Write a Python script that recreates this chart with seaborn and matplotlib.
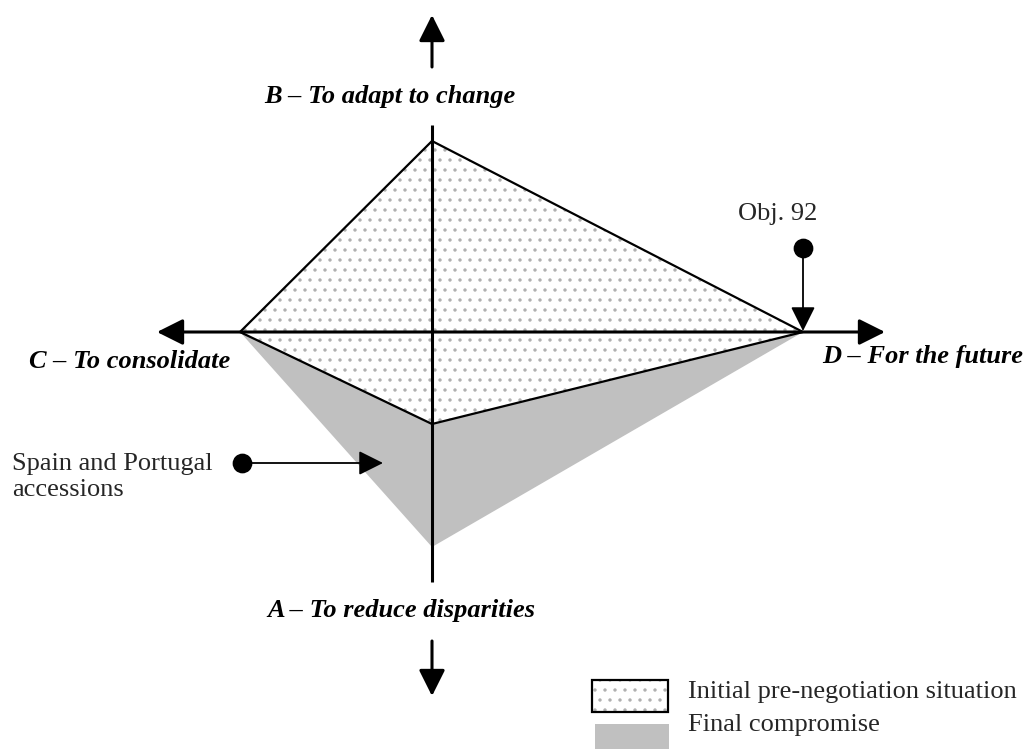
import matplotlib
matplotlib.use("Agg")
import matplotlib.pyplot as plt
from matplotlib.patches import Polygon, Rectangle
import seaborn as sns
import pandas as pd

# ---- data -------------------------------------------------------------
axis_labels = ["A – To reduce disparities", "B – To adapt to change",
               "C – To consolidate", "D – For the future"]
axis_dirs = [(0, -1), (0, 1), (-1, 0), (1, 0)]          # A down, B up, C left, D right
initial_reach = [92, 191, 192, 371]                      # pre-negotiation situation
final_reach = [215, 0, 192, 371]                         # final compromise
legend_labels = ["Initial pre-negotiation situation", "Final compromise"]
note_obj = "Obj. 92"
note_spain = "Spain and Portugal\naccessions"

# ---- style ------------------------------------------------------------
DPI = 120                 # hatch spacing scales with dpi
S = 100 / DPI             # keep sizes as if drawn at 100 dpi
sns.set_theme(style="white")
plt.rcParams["font.family"] = ["Liberation Serif", "DejaVu Serif"]
plt.rcParams["hatch.linewidth"] = 1.0 * S
FS = 19 * S
GRAY = "#c0c0c0"
DOT = "#b0b0b0"

W, H = 1026, 749
OX, OY = 432, 332          # pixel position of the centre


def P(px, py):
    """pixel position -> data coords (origin at centre, y up)"""
    return px - OX, OY - py


def polygon_pts(reach):
    # order around: C(left), B(up), D(right), A(down)
    order = [2, 1, 3, 0]
    return [(axis_dirs[i][0] * reach[i], axis_dirs[i][1] * reach[i]) for i in order]


fig = plt.figure(figsize=(W / DPI, H / DPI), dpi=DPI)
ax = fig.add_axes([0, 0, 1, 1])
ax.set_xlim(-OX, W - OX)
ax.set_ylim(OY - H, OY)
ax.axis("off")

# final compromise (gray)
fin = polygon_pts(final_reach)
ax.add_patch(Polygon(fin, closed=True, facecolor=GRAY, edgecolor="none", zorder=1))

# initial situation (dotted)
ini = polygon_pts(initial_reach)
ax.add_patch(Polygon(ini, closed=True, facecolor="white", edgecolor=DOT,
                     hatch="..", linewidth=0, zorder=2))
df = pd.DataFrame({"x": [p[0] for p in ini + ini[:1]],
                   "y": [p[1] for p in ini + ini[:1]]})
sns.lineplot(data=df, x="x", y="y", sort=False, estimator=None, color="black",
             linewidth=1.6 * S, ax=ax, zorder=3)
ax.set_xlabel("")
ax.set_ylabel("")

# ---- axes with arrows -------------------------------------------------
axis_arrow = dict(arrowstyle="<|-|>,head_length=0.4,head_width=0.2",
                  mutation_scale=40 * S, lw=2.2 * S, color="black",
                  shrinkA=0, shrinkB=0)
ax.annotate("", xy=P(157, OY), xytext=P(885, OY), arrowprops=axis_arrow, zorder=5)
one_arrow = dict(axis_arrow, arrowstyle="-|>,head_length=0.4,head_width=0.2")
ax.annotate("", xy=P(OX, 15), xytext=P(OX, 67), arrowprops=one_arrow, zorder=5)
ax.annotate("", xy=P(OX, 696), xytext=P(OX, 641), arrowprops=one_arrow, zorder=5)
ax.plot(*zip(P(OX, 125), P(OX, 582)), color="black", lw=2.2 * S, zorder=5,
        solid_capstyle="butt")

# ---- axis labels ------------------------------------------------------
lab_kw = dict(fontsize=FS, fontweight="bold", fontstyle="italic", color="black",
              va="center")
ax.text(*P(515, 96), axis_labels[1], ha="right", **lab_kw)
ax.text(*P(535, 610), axis_labels[0], ha="right", **lab_kw)
ax.text(*P(29, 362), axis_labels[2], ha="left", **lab_kw)
ax.text(*P(822, 356), axis_labels[3], ha="left", **lab_kw)

# ---- annotations ------------------------------------------------------
note_arrow = dict(arrowstyle="-|>,head_length=0.5,head_width=0.25",
                  mutation_scale=30 * S, lw=1.3 * S, color="black",
                  shrinkA=0, shrinkB=0)
ax.annotate("", xy=P(803, 331), xytext=P(803, 248), arrowprops=note_arrow, zorder=6)
ax.plot(*P(803, 248), marker="o", markersize=13 * S, color="black", zorder=7)
ax.text(*P(778, 214), note_obj, fontsize=FS, ha="center", va="center")

ax.annotate("", xy=P(383, 463), xytext=P(242, 463), arrowprops=note_arrow, zorder=6)
ax.plot(*P(242, 463), marker="o", markersize=13 * S, color="black", zorder=7)
ax.text(*P(12, 477), note_spain, fontsize=FS, ha="left", va="center",
        linespacing=1.2)

# ---- legend -----------------------------------------------------------
x0, y0 = P(592, 712)
ax.add_patch(Rectangle((x0, y0), 76, 32, facecolor="white", edgecolor=DOT,
                       hatch="..", linewidth=0, zorder=2))
ax.add_patch(Rectangle((x0, y0), 76, 32, facecolor="none", edgecolor="black",
                       linewidth=1.6 * S, zorder=3))
x1, y1 = P(595, 749)
ax.add_patch(Rectangle((x1, y1), 74, 25, facecolor=GRAY, edgecolor="none", zorder=2))
ax.text(*P(688, 692), legend_labels[0], fontsize=FS, ha="left", va="center")
ax.text(*P(688, 725), legend_labels[1], fontsize=FS, ha="left", va="center")

fig.savefig("out.png", dpi=DPI)
